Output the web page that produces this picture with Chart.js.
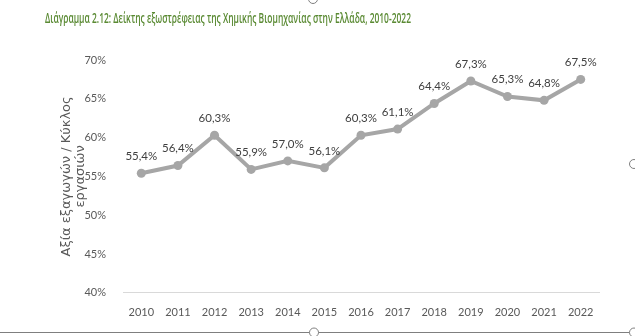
<!DOCTYPE html>
<html>
<head>
<meta charset="utf-8">
<script src="https://cdn.jsdelivr.net/npm/chart.js@4"></script>
<style>
	body { margin:0; background:#fff; }
	#wrap { position:relative; width:635px; height:336px; }
	#title { position:absolute; left:45px; top:9px; font-family:'Open Sans', sans-serif; font-size:13.5px; font-weight:600; color:#5a8a33; white-space:nowrap; transform-origin:0 0; }
	canvas { position:absolute; left:0; top:0; }
</style>
</head>
<body>
<div id="wrap">
	<canvas id="c" width="635" height="336"></canvas>
	<div id="title">Διάγραμμα 2.12: Δείκτης εξωστρέφειας της Χημικής Βιομηχανίας στην Ελλάδα, 2010-2022</div>
</div>
<script>
const years = ['2010','2011','2012','2013','2014','2015','2016','2017','2018','2019','2020','2021','2022']
const exportShare = [55.4, 56.4, 60.3, 55.9, 57.0, 56.1, 60.3, 61.1, 64.4, 67.3, 65.3, 64.8, 67.5]
const yTicks = [40, 45, 50, 55, 60, 65, 70]

const pct = v => v.toFixed(1).replace('.', ',') + '%'

// squeeze the heading into a narrow face width
const t = document.getElementById('title')
t.style.transform = 'scaleX(' + (366 / t.offsetWidth) + ')'

// value labels over each point
const pointLabels = {
	id: 'pointLabels',
	afterDatasetsDraw(chart) {
		const ctx = chart.ctx
		const meta = chart.getDatasetMeta(0)
		ctx.save()
		ctx.font = '11.5px Lato, sans-serif'
		ctx.fillStyle = '#404040'
		ctx.textAlign = 'center'
		ctx.textBaseline = 'bottom'
		meta.data.forEach((p, i) => {
			ctx.fillText(pct(exportShare[i]), p.x, p.y - 11)
		})
		ctx.restore()
	}
}

// frame edge with handles around the chart object
const frame = {
	id: 'frame',
	afterDraw(chart) {
		const ctx = chart.ctx
		ctx.save()
		ctx.strokeStyle = '#7f7f7f'
		ctx.lineWidth = 1
		ctx.beginPath()
		ctx.moveTo(0, 332.5)
		ctx.lineTo(635, 332.5)
		ctx.stroke()
		;[[314, 332.5], [634, 332.5], [634, 164], [313, -1]].forEach(([x, y]) => {
			ctx.beginPath()
			ctx.arc(x, y, 4.5, 0, Math.PI * 2)
			ctx.fillStyle = '#fff'
			ctx.fill()
			ctx.stroke()
		})
		ctx.restore()
	}
}

new Chart(document.getElementById('c'), {
	type: 'line',
	data: {
		labels: years,
		datasets: [{
			data: exportShare,
			borderColor: '#a6a6a6',
			backgroundColor: '#a6a6a6',
			borderWidth: 4,
			pointRadius: 4.5,
			pointBorderWidth: 0,
			tension: 0,
			fill: false,
		}]
	},
	options: {
		responsive: false,
		animation: false,
		layout: { padding: { top: 60, left: 59, right: 36, bottom: 12 } },
		plugins: {
			legend: { display: false },
			tooltip: { enabled: false },
		},
		scales: {
			y: {
				min: 40,
				max: 70,
				afterBuildTicks: s => { s.ticks = yTicks.map(v => ({ value: v })) },
				afterFit: s => { s.width = 64 },
				grid: { display: false },
				border: { display: false },
				ticks: {
					color: '#595959',
					font: { family: 'Lato', size: 11 },
					padding: 9,
					callback: v => v + '%',
				},
				title: {
					display: true,
					text: ['Αξία εξαγωγών / Κύκλος', 'εργασιών'],
					color: '#595959',
					font: { family: 'DejaVu Sans', size: 13, lineHeight: 1.1 },
					padding: { top: 0, bottom: 3 },
				},
			},
			x: {
				offset: true,
				grid: { display: false },
				border: { color: '#d9d9d9' },
				ticks: {
					color: '#595959',
					font: { family: 'Lato', size: 11 },
					padding: 5,
					maxRotation: 0,
				},
			},
		},
	},
	plugins: [pointLabels, frame],
})
</script>
</body>
</html>
